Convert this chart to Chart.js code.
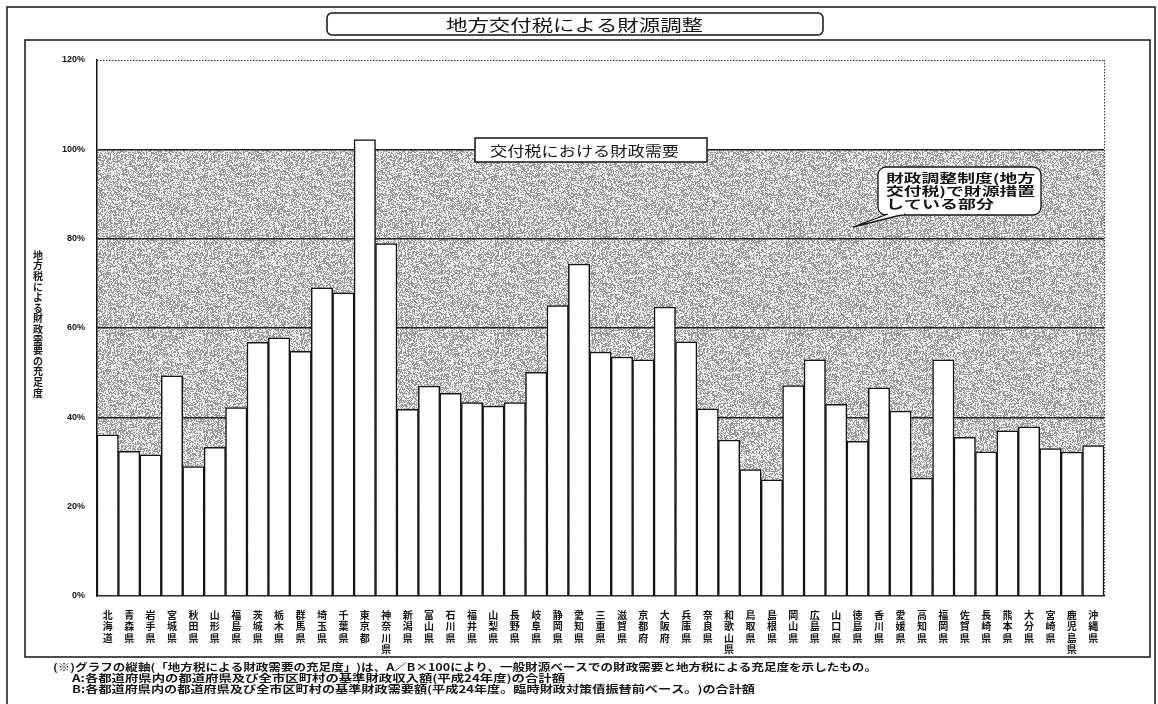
<!DOCTYPE html>
<html>
<head>
<meta charset="utf-8">
<script src="https://cdn.jsdelivr.net/npm/chart.js@4.4.1/dist/chart.umd.min.js"></script>
<style>
  html, body { margin: 0; padding: 0; background: #fff; }
  #wrap { width: 1158px; height: 704px; }
</style>
</head>
<body>
<div id="wrap"><canvas id="chart" width="1158" height="704"></canvas></div>
<script>
// 都道府県ごとの地方税による財政需要の充足度(%)
const prefectures = ['北海道','青森県','岩手県','宮城県','秋田県','山形県','福島県','茨城県','栃木県','群馬県',
  '埼玉県','千葉県','東京都','神奈川県','新潟県','富山県','石川県','福井県','山梨県','長野県',
  '岐阜県','静岡県','愛知県','三重県','滋賀県','京都府','大阪府','兵庫県','奈良県','和歌山県',
  '鳥取県','島根県','岡山県','広島県','山口県','徳島県','香川県','愛媛県','高知県','福岡県',
  '佐賀県','長崎県','熊本県','大分県','宮崎県','鹿児島県','沖縄県'];
const sufficiency = [36.1, 32.4, 31.6, 49.3, 29.0, 33.3, 42.2, 56.8, 57.8, 54.8,
  69.0, 67.9, 102.2, 78.9, 41.8, 47.0, 45.4, 43.3, 42.5, 43.3,
  50.1, 65.0, 74.3, 54.6, 53.5, 52.9, 64.7, 56.9, 41.9, 34.9,
  28.3, 26.0, 47.1, 52.9, 42.9, 34.6, 46.6, 41.4, 26.4, 52.9,
  35.5, 32.3, 37.0, 37.9, 33.0, 32.2, 33.7];
const yMax = 120;
const yStep = 20;
const demandLevel = 100;   // 交付税における財政需要

const chartTitle = '地方交付税による財源調整';
const yTitle = '地方税による財政需要の充足度';
const demandLabel = '交付税における財政需要';
const calloutLines = ['財政調整制度(地方', '交付税)で財源措置', 'している部分'];
const notes = [
  '(※)グラフの縦軸(「地方税による財政需要の充足度」)は、A／B×100により、一般財源ベースでの財政需要と地方税による充足度を示したもの。',
  'A:各都道府県内の都道府県及び全市区町村の基準財政収入額(平成24年度)の合計額',
  'B:各都道府県内の都道府県及び全市区町村の基準財政需要額(平成24年度。臨時財政対策債振替前ベース。)の合計額'
];

const JP = "'Noto Sans CJK JP', 'Noto Sans', sans-serif";
const INK = '#151515';

// 網掛け用のざらついたパターン
function makeStipple() {
  const c = document.createElement('canvas');
  c.width = c.height = 97;
  const g = c.getContext('2d');
  const img = g.createImageData(97, 97);
  let s = 2024;
  for (let i = 0; i < 97 * 97; i++) {
    s = (s * 1103515245 + 12345) & 0x7fffffff;
    const v = (s / 0x7fffffff) < 0.46 ? 152 : 236;
    img.data[i * 4] = img.data[i * 4 + 1] = img.data[i * 4 + 2] = v;
    img.data[i * 4 + 3] = 255;
  }
  g.putImageData(img, 0, 0);
  return c;
}

// 横に引き伸ばした文字列を描く
function stretchText(ctx, text, x, y, font, width) {
  ctx.save();
  ctx.font = font;
  const w = ctx.measureText(text).width;
  ctx.translate(x, y);
  ctx.scale(width / w, 1);
  ctx.textAlign = 'left';
  ctx.textBaseline = 'middle';
  ctx.fillText(text, 0, 0);
  ctx.restore();
}

function roundRect(ctx, x, y, w, h, r) {
  ctx.beginPath();
  ctx.moveTo(x + r, y);
  ctx.arcTo(x + w, y, x + w, y + h, r);
  ctx.arcTo(x + w, y + h, x, y + h, r);
  ctx.arcTo(x, y + h, x, y, r);
  ctx.arcTo(x, y, x + w, y, r);
  ctx.closePath();
}

const decor = {
  id: 'decor',
  beforeDraw(chart) {
    const ctx = chart.ctx;
    const { left, right } = chart.chartArea;
    const y = chart.scales.y;
    ctx.save();
    ctx.fillStyle = '#fff';
    ctx.fillRect(0, 0, chart.width, chart.height);
    ctx.fillStyle = ctx.createPattern(makeStipple(), 'repeat');
    const top = y.getPixelForValue(demandLevel);
    ctx.fillRect(left, top, right - left, y.getPixelForValue(0) - top);
    ctx.restore();
  },
  afterDraw(chart) {
    const ctx = chart.ctx;
    const { left, right, bottom } = chart.chartArea;
    const y = chart.scales.y;
    ctx.save();

    // 上端と右端の点線
    ctx.strokeStyle = '#333';
    ctx.lineWidth = 1;
    ctx.setLineDash([1.5, 1.5]);
    ctx.beginPath();
    ctx.moveTo(left, y.getPixelForValue(yMax) + 0.5);
    ctx.lineTo(right, y.getPixelForValue(yMax) + 0.5);
    ctx.moveTo(right + 0.5, y.getPixelForValue(yMax));
    ctx.lineTo(right + 0.5, bottom);
    ctx.stroke();
    ctx.setLineDash([]);

    // 外枠と内枠
    ctx.strokeStyle = INK;
    ctx.lineWidth = 1.5;
    ctx.strokeRect(7, 7, 1148, 720);
    ctx.strokeRect(25, 40, 1125, 617);

    // 表題
    ctx.fillStyle = '#fff';
    roundRect(ctx, 327, 13, 496, 22, 5);
    ctx.fill();
    ctx.stroke();
    ctx.fillStyle = INK;
    stretchText(ctx, chartTitle, 446, 24.5, '16px ' + JP, 257);

    // 交付税における財政需要
    ctx.fillStyle = '#fff';
    ctx.fillRect(475, 138, 232, 24);
    ctx.strokeRect(475, 138, 232, 24);
    ctx.fillStyle = INK;
    stretchText(ctx, demandLabel, 490, 150.5, '14px ' + JP, 189);

    // 吹き出し
    ctx.fillStyle = '#fff';
    ctx.lineWidth = 1.3;
    roundRect(ctx, 878, 167, 163, 48, 8);
    ctx.fill();
    ctx.stroke();
    ctx.beginPath();
    ctx.moveTo(888, 214);
    ctx.lineTo(853, 227);
    ctx.lineTo(905, 214);
    ctx.fill();
    ctx.stroke();
    ctx.fillStyle = '#fff';
    ctx.fillRect(889, 212, 15, 2.5);
    ctx.fillStyle = INK;
    const calloutWidths = [149, 149, 108];
    calloutLines.forEach((t, i) => {
      stretchText(ctx, t, 886, 178 + i * 13, 'bold 12px ' + JP, calloutWidths[i]);
    });

    // 縦軸の見出し(縦書き)
    ctx.font = 'bold 10px ' + JP;
    ctx.textAlign = 'center';
    ctx.textBaseline = 'middle';
    [...yTitle].forEach((ch, i) => {
      ctx.fillText(ch, 38, 255 + i * 10.6);
    });

    // 注記
    stretchText(ctx, notes[0], 53, 667, 'bold 10px ' + JP, 824);
    stretchText(ctx, notes[1], 72, 678, 'bold 10px ' + JP, 493);
    stretchText(ctx, notes[2], 72, 689, 'bold 10px ' + JP, 683);

    ctx.restore();
  }
};

new Chart(document.getElementById('chart'), {
  type: 'bar',
  data: {
    labels: prefectures.map(p => [...p]),
    datasets: [{
      data: sufficiency,
      backgroundColor: '#fff',
      borderColor: INK,
      borderWidth: 1.5,
      barPercentage: 1,
      categoryPercentage: 1
    }]
  },
  options: {
    responsive: false,
    animation: false,
    devicePixelRatio: 1,
    layout: { padding: { top: 60, right: 54, left: 0, bottom: 0 } },
    plugins: { legend: { display: false }, tooltip: { enabled: false } },
    scales: {
      x: {
        grid: { display: false },
        border: { color: INK, width: 1.5 },
        ticks: {
          autoSkip: false,
          maxRotation: 0,
          padding: 5,
          color: INK,
          font: { family: JP, size: 10, weight: 'bold', lineHeight: 1.15 }
        },
        afterFit(scale) { scale.height = 108; }
      },
      y: {
        min: 0,
        max: yMax,
        ticks: {
          stepSize: yStep,
          padding: 12,
          color: INK,
          font: { family: 'Arial, Liberation Sans, sans-serif', size: 9, weight: 'bold' },
          callback: v => v + '%'
        },
        grid: {
          drawTicks: false,
          lineWidth: 1.5,
          color: c => (c.tick && (c.tick.value === 0 || c.tick.value === yMax)) ? 'rgba(0,0,0,0)' : '#222'
        },
        border: { color: INK, width: 1.5 },
        afterFit(scale) { scale.width = 97; }
      }
    }
  },
  plugins: [decor]
});
</script>
</body>
</html>
